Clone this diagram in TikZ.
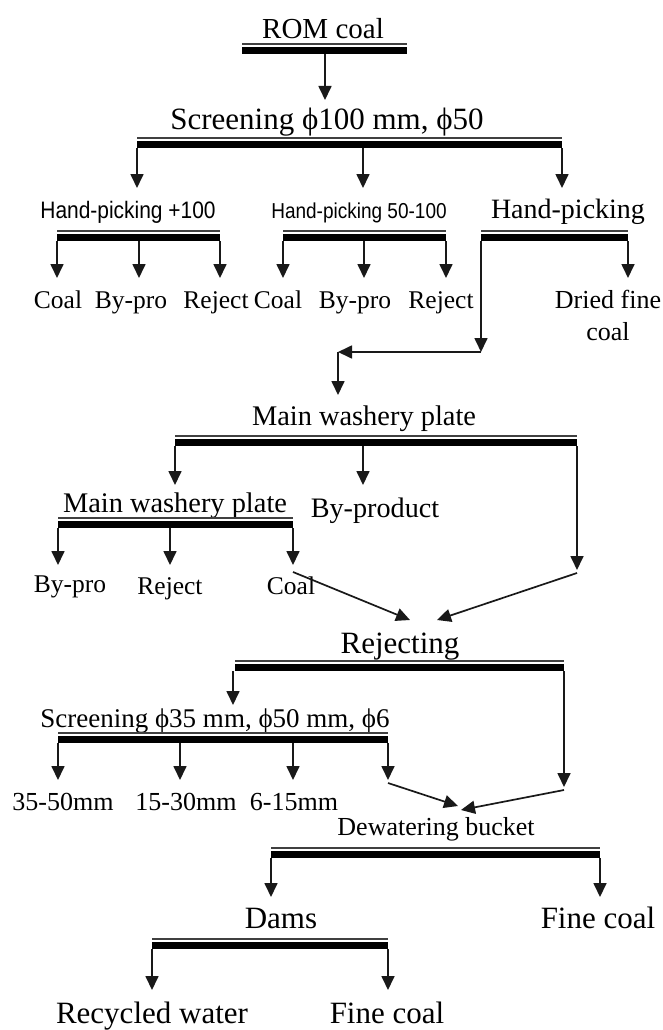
\documentclass[tikz,border=0pt]{standalone}
\usepackage{fontspec}
\setmainfont{Liberation Serif}
\newfontfamily\sansf[FakeStretch=0.88]{Liberation Sans}
\usetikzlibrary{arrows.meta}
\newcommand\fsz[1]{\fontsize{#1}{#1}\selectfont}
\begin{document}
\begin{tikzpicture}[x=1pt,y=-1pt,
  lbl/.style={anchor=base, inner sep=0pt, font=\fsz{#1}},
  slbl/.style={anchor=base, inner sep=0pt, font=\sansf\fsz{#1}},
  bar/.style={minimum width=#1, minimum height=11pt, inner sep=0pt, outer sep=0pt,
    path picture={
      \fill[black] (path picture bounding box.south west) rectangle ([yshift=6.8pt]path picture bounding box.south east);
      \fill[black!75] ([yshift=-2pt]path picture bounding box.north west) rectangle (path picture bounding box.north east);
    }},
  arr/.style={line width=1.7pt, draw=black!90, -{Triangle[width=13pt,length=14pt]}},
  ln/.style={line width=1.7pt, draw=black!90}]
\useasboundingbox (0,0) rectangle (663,1030);
\fill[white] (0,0) rectangle (663,1030);

% ---- ROM coal
\node[lbl=29] (trom) at (323,39) {ROM coal};
\node[bar=165pt] (brom) at (324.5,48.5) {};
\draw[arr] (brom.south -| 325,0) -- ++(0,46);

% ---- Screening 100/50
\node[lbl=31] (tscr) at (327,130) {Screening ϕ100 mm, ϕ50};
\node[bar=425pt] (bscr) at (349.5,142.5) {};
\draw[arr] (bscr.south west) -- ++(0,40);
\draw[arr] (bscr.south -| 363,0) -- ++(0,40);
\draw[arr] (bscr.south east) -- ++(0,40);

% ---- Hand-picking +100
\node[slbl=23.8] (thp1) at (128,218) {Hand-picking +100};
\node[bar=163pt] (bhp1) at (138.5,235.5) {};
\draw[arr] (bhp1.south west) -- ++(0,37);
\draw[arr] (bhp1.south -| 139,0) -- ++(0,37);
\draw[arr] (bhp1.south east) -- ++(0,37);
\node[lbl=25.5] (c1) at (58,308) {Coal};
\node[lbl=25.5] (p1) at (131,308) {By-pro};
\node[lbl=25.5] (r1) at (216,308) {Reject};

% ---- Hand-picking 50-100
\node[slbl=21.6] (thp2) at (359,218) {Hand-picking 50-100};
\node[bar=163pt] (bhp2) at (364.5,235.5) {};
\draw[arr] (bhp2.south west) -- ++(0,37);
\draw[arr] (bhp2.south -| 364,0) -- ++(0,37);
\draw[arr] (bhp2.south east) -- ++(0,37);
\node[lbl=25.5] (c2) at (278,308) {Coal};
\node[lbl=25.5] (p2) at (355,308) {By-pro};
\node[lbl=25.5] (r2) at (441,308) {Reject};

% ---- Hand-picking
\node[lbl=28] (thp3) at (568,218) {Hand-picking};
\node[bar=147pt] (bhp3) at (554.5,235.5) {};
\draw[arr] (bhp3.south east) -- ++(0,37);
\node[lbl=26] (dfc1) at (608,308) {Dried fine};
\node[lbl=26] (dfc2) at (608,340) {coal};
\coordinate (k1) at (481,352);
\coordinate (k2) at (338,352);
\draw[arr] (bhp3.south west) -- (k1);
\draw[arr] (k1) -- (k2);
\draw[arr] (k2) -- ++(0,43);

% ---- Main washery plate 1
\node[lbl=28.4] (tmw1) at (364,425) {Main washery plate};
\node[bar=402pt] (bmw1) at (376,440.5) {};
\draw[arr] (bmw1.south west) -- ++(0,39);
\draw[arr] (bmw1.south -| 363,0) -- ++(0,39);
\draw[arr] (bmw1.south east) -- ++(0,124);
\node[lbl=28.2] (tbyp) at (375,517) {By-product};

% ---- Main washery plate 2
\node[lbl=28.4] (tmw2) at (175,512) {Main washery plate};
\node[bar=235pt] (bmw2) at (175.5,522.5) {};
\draw[arr] (bmw2.south west) -- ++(0,37);
\draw[arr] (bmw2.south -| 170,0) -- ++(0,37);
\draw[arr] (bmw2.south east) -- ++(0,37);
\node[lbl=25.5] (p3) at (70,592) {By-pro};
\node[lbl=25.5] (r3) at (170,594) {Reject};
\node[lbl=25.5] (c3) at (291,594) {Coal};
\coordinate (d1s) at (293,572);
\coordinate (d1e) at (410,620);
\coordinate (d2s) at (577,573);
\coordinate (d2e) at (437,620);
\draw[arr] (d1s) -- (d1e);
\draw[arr] (d2s) -- (d2e);

% ---- Rejecting
\node[lbl=31] (trej) at (400,653) {Rejecting};
\node[bar=329pt] (brej) at (399.5,665.5) {};
\draw[arr] (brej.south -| 233,0) -- ++(0,34);
\draw[arr] (brej.south east) -- ++(0,116);

% ---- Screening 35/50/6
\node[lbl=27] (tscr2) at (215,727) {Screening ϕ35 mm, ϕ50 mm, ϕ6};
\node[bar=330pt] (bscr2) at (223,737.5) {};
\draw[arr] (bscr2.south west) -- ++(0,37);
\draw[arr] (bscr2.south -| 180,0) -- ++(0,37);
\draw[arr] (bscr2.south -| 293,0) -- ++(0,37);
\draw[arr] (bscr2.south east) -- ++(0,37);
\node[lbl=26] (s1) at (63,810) {35-50mm};
\node[lbl=26] (s2) at (186,810) {15-30mm};
\node[lbl=26] (s3) at (294,810) {6-15mm};
\coordinate (e1s) at (388,783);
\coordinate (e1e) at (458,806);
\coordinate (e2s) at (564,790);
\coordinate (e2e) at (461,810);
\draw[arr] (e1s) -- (e1e);
\draw[arr] (e2s) -- (e2e);

% ---- Dewatering bucket
\node[lbl=26] (tdew) at (436,835) {Dewatering bucket};
\node[bar=329pt] (bdew) at (435.5,852.5) {};
\draw[arr] (bdew.south west) -- ++(0,39);
\draw[arr] (bdew.south east) -- ++(0,39);
\node[lbl=31] (tdams) at (281,928) {Dams};
\node[lbl=31] (tfc1) at (598,928) {Fine coal};

% ---- Dams
\node[bar=236pt] (bdams) at (270,943.5) {};
\draw[arr] (bdams.south west) -- ++(0,41);
\draw[arr] (bdams.south east) -- ++(0,41);
\node[lbl=31] (trw) at (152,1023) {Recycled water};
\node[lbl=31] (tfc2) at (387,1023) {Fine coal};
\end{tikzpicture}
\end{document}
